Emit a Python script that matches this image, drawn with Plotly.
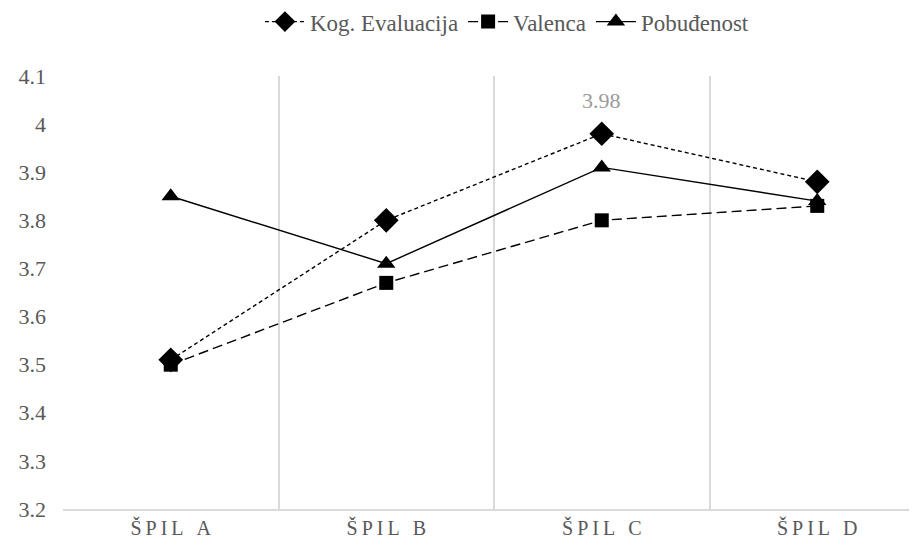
import plotly.graph_objects as go

categories = ["ŠPIL A", "ŠPIL B", "ŠPIL C", "ŠPIL D"]
kog = [3.51, 3.80, 3.98, 3.88]
valenca = [3.50, 3.67, 3.80, 3.83]
pobudenost = [3.85, 3.71, 3.91, 3.84]
label_index = 2  # data label shown on Kog. Evaluacija at ŠPIL C

SP = "\u2009"
def spaced(s):
    return SP.join(list(s))

cat_labels = [spaced(c) for c in categories]

FONT = "Liberation Serif"

fig = go.Figure()
fig.add_trace(go.Scatter(
    x=categories, y=kog, name="Kog. Evaluacija", mode="lines+markers",
    line=dict(color="black", width=1.4, dash="4px,3px"),
    marker=dict(symbol="diamond", size=19, color="black"),
))
fig.add_trace(go.Scatter(
    x=categories, y=valenca, name="Valenca", mode="lines+markers",
    line=dict(color="black", width=1.4, dash="10px,5px"),
    marker=dict(symbol="square", size=14, color="black"),
))
fig.add_trace(go.Scatter(
    x=categories, y=pobudenost, name="Pobuđenost", mode="lines+markers",
    line=dict(color="black", width=1.4),
    marker=dict(symbol="triangle-up", size=16, color="black"),
))

fig.add_annotation(
    x=categories[label_index], y=kog[label_index], xref="x", yref="y",
    text=f"{kog[label_index]:.2f}", showarrow=False, yshift=33,
    font=dict(family=FONT, size=22, color="#9a9a9a"),
)

fig.update_layout(
    width=917, height=545,
    margin=dict(l=55, r=0, t=68, b=44),
    plot_bgcolor="white", paper_bgcolor="white",
    font=dict(family=FONT, color="#595959", size=22),
    legend=dict(orientation="h", x=0.515, xanchor="center", y=0.975, yanchor="middle",
                yref="container", font=dict(family=FONT, size=23, color="#595959"),
                itemwidth=40, traceorder="normal"),
    showlegend=True,
)
fig.update_xaxes(
    tickmode="array", tickvals=categories, ticktext=cat_labels,
    tickson="boundaries", showgrid=True, gridcolor="#d9d9d9", gridwidth=1.5,
    showline=True, linecolor="#d9d9d9", linewidth=1.5,
    ticks="", range=[-0.5, 3.5], tickfont=dict(family=FONT, size=20, color="#595959"),
    zeroline=False,
)
fig.update_yaxes(
    range=[3.2, 4.1], dtick=0.1, tick0=3.2, showgrid=False, zeroline=False,
    showline=False, ticks="", tickfont=dict(family=FONT, size=22, color="#595959"),
    tickformat="~g", ticklabelstandoff=16,
)

fig.write_html("out.html")
